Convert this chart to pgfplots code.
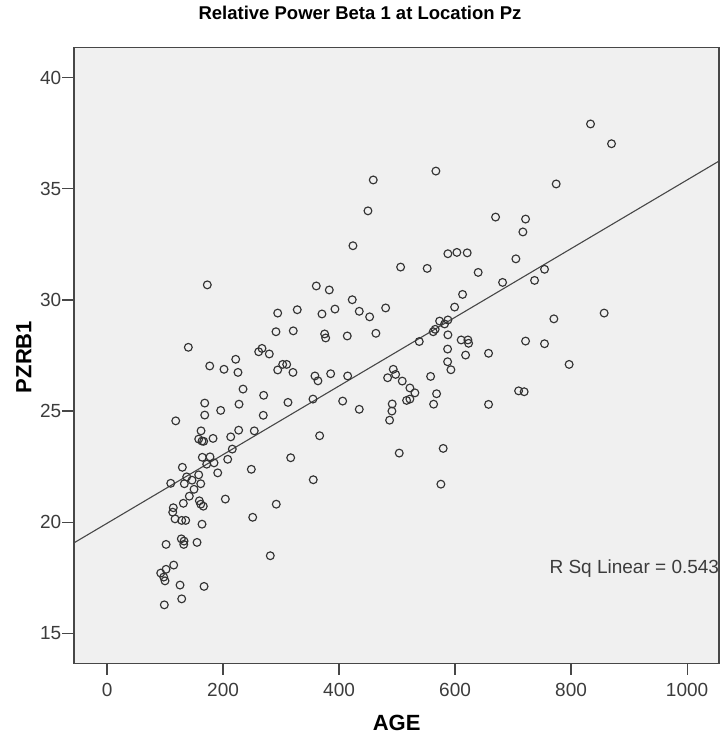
\documentclass[border=0pt]{standalone}
\usepackage{fontspec}
\setmainfont{Liberation Sans}
\usepackage{pgfplots}
\usepackage{pgfplotstable}
\pgfplotsset{compat=1.18}
\definecolor{bgc}{HTML}{F0F0F0}
\definecolor{axc}{HTML}{474747}
\definecolor{mkc}{HTML}{333333}
\definecolor{tickc}{HTML}{3C3C3C}
\pgfplotstableread{
age pzrb1
140.1 27.87
267.1 27.82
261.4 27.67
279.7 27.57
291.2 28.57
221.8 27.33
177.0 27.03
201.6 26.88
225.7 26.74
294.2 26.85
234.4 25.99
270.0 25.71
168.4 25.36
227.5 25.31
195.9 25.03
118.4 24.56
168.4 24.82
269.3 24.81
162.0 24.11
158.0 23.74
163.7 23.65
166.6 23.64
182.7 23.77
226.9 24.14
253.8 24.11
213.2 23.84
215.9 23.29
208.0 22.83
164.2 22.92
177.5 22.94
184.4 22.67
171.8 22.61
190.8 22.22
129.8 22.47
137.3 22.04
146.5 21.89
158.0 22.13
109.8 21.75
133.2 21.73
161.5 21.73
149.9 21.48
141.8 21.17
248.7 22.38
203.9 21.04
131.5 20.85
159.1 20.96
161.5 20.81
165.9 20.72
114.2 20.65
113.2 20.45
117.2 20.15
128.7 20.08
135.6 20.08
163.7 19.91
251.1 20.22
291.7 20.81
101.7 19.00
128.0 19.25
132.7 19.15
132.2 19.00
155.1 19.09
114.9 18.07
101.7 17.88
92.5 17.71
97.7 17.53
99.9 17.36
125.8 17.17
167.2 17.11
128.7 16.55
98.7 16.28
281.4 18.49
172.8 30.68
294.2 29.41
321.0 28.61
375.1 28.47
376.9 28.29
414.1 28.38
463.5 28.50
302.8 27.10
309.7 27.10
320.5 26.74
358.4 26.58
363.6 26.36
385.5 26.68
414.8 26.58
311.9 25.39
355.0 25.54
406.2 25.45
434.8 25.08
366.5 23.89
316.6 22.90
355.5 21.91
493.4 26.88
497.5 26.65
483.7 26.50
508.9 26.35
522.1 26.04
530.7 25.82
522.1 25.54
516.4 25.48
491.6 25.32
491.1 25.00
487.1 24.59
503.7 23.11
557.8 26.56
568.1 25.78
563.0 25.31
579.5 23.32
575.5 21.71
538.2 28.13
562.3 28.57
565.7 28.68
587.6 28.43
587.1 27.79
587.1 27.22
592.8 26.86
610.5 28.20
622.1 28.20
623.3 28.05
618.1 27.52
657.7 27.60
657.7 25.30
458.9 35.40
566.9 35.80
449.8 34.01
423.9 32.44
506.1 31.48
551.9 31.42
587.6 32.08
603.1 32.14
620.9 32.12
639.8 31.24
612.9 30.25
599.2 29.68
573.3 29.05
587.6 29.10
581.9 28.92
360.7 30.63
383.1 30.45
422.7 30.01
327.9 29.56
370.5 29.37
392.9 29.59
434.8 29.49
452.7 29.24
480.3 29.64
833.5 37.92
869.7 37.03
774.3 35.22
669.8 33.73
721.5 33.64
716.9 33.06
704.8 31.85
681.9 30.79
754.2 31.38
737.0 30.88
770.3 29.15
857.0 29.41
721.5 28.15
754.2 28.03
796.6 27.10
709.5 25.91
719.1 25.87
}\pzdata
\begin{document}
\begin{tikzpicture}[x=1pt,y=1pt]
\useasboundingbox (-74,-71.7) rectangle (646,663.3);
\begin{axis}[
  at={(0,0)}, anchor=south west, scale only axis,
  width=645pt, height=616pt,
  xmin=-57, xmax=1055, ymin=13.65, ymax=41.37,
  axis background/.style={fill=bgc},
  axis line style={axc, line width=1.3pt},
  xtick={0,200,400,600,800,1000},
  ytick={15,20,25,30,35,40},
  xtick pos=bottom, ytick pos=left,
  tick align=outside, major tick length=11.5pt,
  tick style={axc, line width=1.2pt},
  /pgf/number format/assume math mode=true,
  /pgf/number format/1000 sep={},
  tick label style={font=\fontsize{19}{22}\selectfont, text=tickc, inner sep=0pt},
  xticklabel style={anchor=north},
  yticklabel style={anchor=east},
  xticklabel shift=7.9pt,
  yticklabel shift=1.0pt,
  title={Relative Power Beta 1 at Location Pz},
  title style={at={(axis description cs:0.4434,1.0346)}, anchor=base, inner sep=0pt,
    font=\bfseries\fontsize{18.5}{22}\selectfont},
  xlabel={AGE}, ylabel={PZRB1},
  xlabel style={at={(axis description cs:0.5003,0)}, anchor=base, yshift=-67.6pt, inner sep=0pt,
    font=\bfseries\fontsize{22}{26}\selectfont},
  ylabel style={at={(axis description cs:-0.07798,0.4972)}, anchor=center, inner sep=0pt,
    font=\bfseries\fontsize{22}{26}\selectfont},
]
\addplot[only marks, mark=o, mark size=3.9pt, mark options={draw=mkc, line width=1.15pt}] table[x=age, y=pzrb1] {\pzdata};
\addplot[axc, line width=1.1pt] coordinates {(-57,19.07) (1055,36.25)};
\node[anchor=base west, inner sep=0pt, font=\fontsize{19}{22}\selectfont, text=tickc] at (axis cs:762.5,17.70) {R Sq Linear = 0.543};
\end{axis}
\end{tikzpicture}
\end{document}
